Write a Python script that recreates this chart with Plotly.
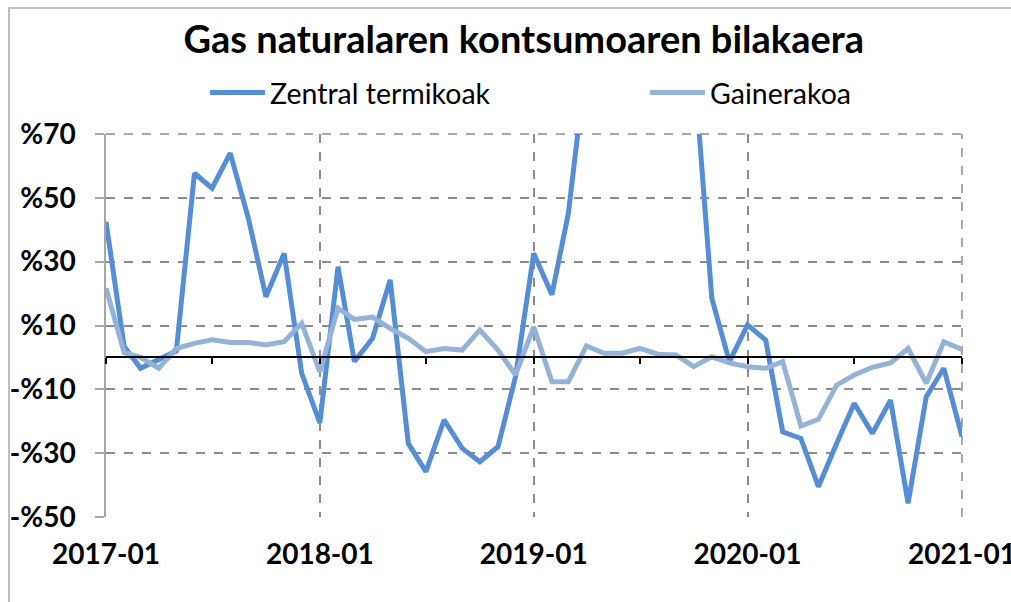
import plotly.graph_objects as go
import pandas as pd

months = pd.date_range("2017-01-01", "2021-01-01", freq="MS")

zentral_termikoak = [
    42.5, 3.4, -3.4, -0.8, 2.0, 57.7, 53.0, 64.0, 43.6, 19.0, 32.6, -5.0,
    -20.5, 28.4, -1.3, 6.0, 24.3, -27.0, -35.8, -19.6, -28.5, -32.7, -28.0, -6.0,
    32.6, 19.6, 45.0, 93.0, 130.0, 150.0, 160.0, 140.0, 120.0, 93.0, 18.5, -1.3,
    10.2, 5.4, -23.3, -25.4, -40.5, -27.0, -14.4, -23.8, -13.4, -45.7, -12.3, -3.4,
    -24.8,
]

gainerakoa = [
    21.7, 1.5, 0.0, -3.4, 2.8, 4.4, 5.5, 4.7, 4.7, 3.9, 4.9, 10.7,
    -4.5, 15.4, 11.9, 12.6, 9.1, 6.0, 1.8, 2.8, 2.3, 8.6, 2.3, -5.5,
    9.6, -7.6, -7.6, 3.6, 1.3, 1.3, 2.8, 1.0, 0.8, -2.9, 0.2, -1.7,
    -2.9, -3.4, -1.3, -21.5, -19.4, -8.7, -5.5, -3.1, -1.7, 2.8, -8.1, 4.9,
    2.5,
]

y_ticks = [-50, -30, -10, 10, 30, 50, 70]
y_ticktext = ["-%50", "-%30", "-%10", "%10", "%30", "%50", "%70"]
year_ticks = months[::12]
half_year_ticks = months[::6]

dark = "#558ED5"
light = "#95B3D7"
grid = "#8C8C8C"
font = "Lato"

fig = go.Figure()
fig.add_trace(go.Scatter(x=months, y=zentral_termikoak, mode="lines",
                         name="Zentral termikoak", legend="legend",
                         line=dict(color=dark, width=5)))
fig.add_trace(go.Scatter(x=months, y=gainerakoa, mode="lines",
                         name="Gainerakoa", legend="legend2",
                         line=dict(color=light, width=5)))
# invisible trace to activate the zero-line axis
fig.add_trace(go.Scatter(x=[months[0], months[-1]], y=[0, 0], xaxis="x2",
                         mode="lines", line=dict(width=0), showlegend=False,
                         hoverinfo="skip"))

x_range = [months[0], months[-1]]

legend_common = dict(orientation="h", xref="container", yref="container",
                     xanchor="left", y=1 - 93 / 602, yanchor="middle",
                     font=dict(family=font, size=28.5, color="black"),
                     itemwidth=55, bgcolor="rgba(0,0,0,0)")

fig.update_layout(
    width=1011, height=602,
    paper_bgcolor="white", plot_bgcolor="white",
    margin=dict(l=106, r=49, t=134, b=85, autoexpand=False),
    title=dict(text="<b>Gas naturalaren kontsumoaren bilakaera</b>",
               x=0.518, xanchor="center", xref="container",
               y=1 - 40 / 602, yanchor="middle", yref="container",
               font=dict(family=font, size=38, color="black")),
    legend=dict(legend_common, x=205 / 1011),
    legend2=dict(legend_common, x=645 / 1011),
    xaxis=dict(range=x_range, tickvals=year_ticks, tickformat="%Y-%m",
               showgrid=True, gridcolor=grid, griddash="dash", gridwidth=1.5,
               showline=False, zeroline=False, ticks="", ticklabelstandoff=18,
               automargin=False, ticklabeloverflow="allow",
               tickfont=dict(family=font, size=28, color="black", weight="bold")),
    xaxis2=dict(range=x_range, overlaying="x", anchor="free",
                position=50 / 120, side="bottom",
                showline=True, linecolor="black", linewidth=1.5,
                tickvals=half_year_ticks, ticks="outside", ticklen=6,
                tickcolor="black", tickwidth=1.5, showticklabels=False,
                showgrid=False, zeroline=False, automargin=False),
    yaxis=dict(range=[-50, 70], tickvals=y_ticks, ticktext=y_ticktext,
               showgrid=True, gridcolor=grid, griddash="dash", gridwidth=1.5,
               zeroline=False, showline=True, linecolor="#A6A6A6", linewidth=1.5,
               ticks="outside", ticklen=9, tickcolor="#A6A6A6", tickwidth=1.5,
               ticklabelstandoff=14, automargin=False,
               tickfont=dict(family=font, size=28, color="black", weight="bold")),
    showlegend=True,
)

# gridlines at the plot edges (top of y range, right end of x range)
fig.add_shape(type="line", xref="paper", yref="paper", x0=0, x1=1, y0=1, y1=1,
              line=dict(color=grid, width=1.5, dash="dash"), layer="below")
fig.add_shape(type="line", xref="paper", yref="paper", x0=1, x1=1, y0=0, y1=1,
              line=dict(color=grid, width=1.5, dash="dash"), layer="below")

# outer chart border (top and left visible, rest cropped)
fig.add_shape(type="rect", xref="paper", yref="paper",
              x0=(9 - 106) / 856, x1=1.2, y0=-0.4, y1=(517 - 8) / 383,
              line=dict(color="#BFBFBF", width=2), fillcolor="rgba(0,0,0,0)",
              layer="below")

fig.write_html("out.html", config={"displayModeBar": False},
               post_script="document.body.style.margin='0';")
